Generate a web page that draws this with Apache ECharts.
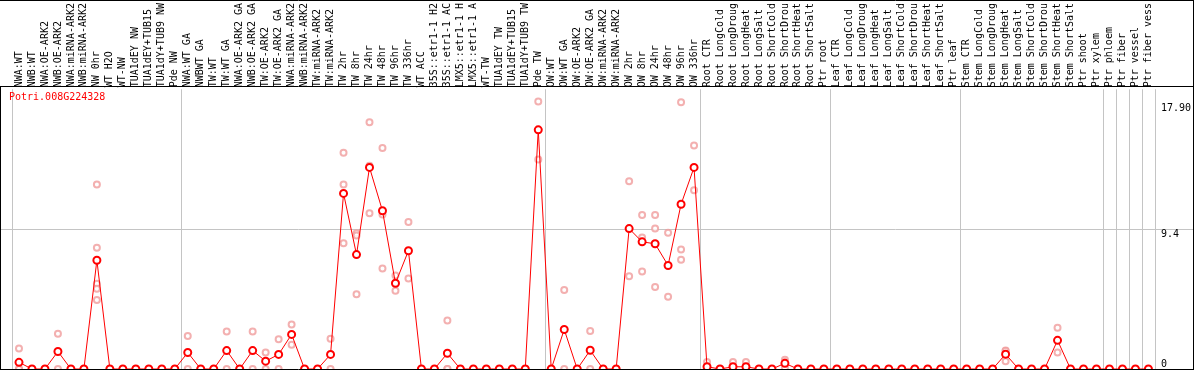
<!DOCTYPE html>
<html>
<head>
<meta charset="utf-8">
<script src="https://cdn.jsdelivr.net/npm/echarts@6/dist/echarts.min.js"></script>
<style>
html, body { margin: 0; padding: 0; background: #fff; }
#c { width: 1194px; height: 370px; }
</style>
</head>
<body>
<div id="c"></div>
<script>
const geneName = 'Potri.008G224328';

const categories = [
  'NWA:WT', 'NWB:WT', 'NWA:OE-ARK2', 'NWB:OE-ARK2', 'NWA:miRNA-ARK2', 'NWB:miRNA-ARK2',
  'NW 0hr', 'WT H2O', 'WT-NW', 'TUA1dEY NW', 'TUA1dEY+TUB15', 'TUA1dY+TUB9 NW', 'Pde NW',
  'NWA:WT GA', 'NWBWT GA', 'TW:WT', 'TW:WT GA', 'NWA:OE-ARK2 GA', 'NWB:OE-ARK2 GA',
  'TW:OE-ARK2', 'TW:OE-ARK2 GA', 'NWA:miRNA-ARK2', 'NWB:miRNA-ARK2', 'TW:miRNA-ARK2', 'TW:miRNA-ARK2',
  'TW 2hr', 'TW 8hr', 'TW 24hr', 'TW 48hr', 'TW 96hr', 'TW 336hr', 'WT ACC',
  '35S::etr1-1 H2', '35S::etr1-1 AC', 'LMX5::etr1-1 H', 'LMX5::etr1-1 A', 'WT-TW',
  'TUA1dEY TW', 'TUA1dEY+TUB15', 'TUA1dY+TUB9 TW', 'Pde TW',
  'OW:WT', 'OW:WT GA', 'OW:OE-ARK2', 'OW:OE-ARK2 GA', 'OW:miRNA-ARK2', 'OW:miRNA-ARK2',
  'OW 2hr', 'OW 8hr', 'OW 24hr', 'OW 48hr', 'OW 96hr', 'OW 336hr',
  'Root CTR', 'Root LongCold', 'Root LongDroug', 'Root LongHeat', 'Root LongSalt',
  'Root ShortCold', 'Root ShortDrou', 'Root ShortHeat', 'Root ShortSalt', 'Ptr root',
  'Leaf CTR', 'Leaf LongCold', 'Leaf LongDroug', 'Leaf LongHeat', 'Leaf LongSalt',
  'Leaf ShortCold', 'Leaf ShortDrou', 'Leaf ShortHeat', 'Leaf ShortSalt', 'Ptr leaf',
  'Stem CTR', 'Stem LongCold', 'Stem LongDroug', 'Stem LongHeat', 'Stem LongSalt',
  'Stem ShortCold', 'Stem ShortDrou', 'Stem ShortHeat', 'Stem ShortSalt', 'Ptr shoot',
  'Ptr xylem', 'Ptr phloem', 'Ptr fiber', 'Ptr vessel', 'Ptr fiber vess'
];

// number of samples in each separated block
const groupSizes = [13, 28, 12, 10, 10, 11, 1, 1, 1, 1];

const meanValues = [
  0.45, 0, 0, 1.18, 0, 0, 7.32, 0, 0, 0, 0, 0, 0,
  1.11, 0, 0, 1.24, 0, 1.24, 0.53, 0.98, 2.33, 0, 0, 0.98,
  11.82, 7.70, 13.57, 10.65, 5.77, 7.96, 0, 0, 1.06, 0, 0, 0, 0, 0, 0, 16.10,
  0, 2.66, 0, 1.26, 0, 0, 9.45, 8.56, 8.43, 6.97, 11.09, 13.57,
  0.15, 0, 0.15, 0.15, 0, 0, 0.38, 0, 0, 0,
  0, 0, 0, 0, 0, 0, 0, 0, 0, 0,
  0, 0, 0, 1.0, 0, 0, 0, 1.93, 0, 0, 0,
  0, 0, 0, 0
];

const replicateValues = [
  [1.38, 0, 0], [0, 0], [0, 0], [2.37, 0], [0, 0], [0, 0],
  [12.42, 8.16, 5.74, 5.41, 4.64], [0, 0], [0, 0], [0, 0], [0, 0], [0, 0], [0, 0],
  [2.22, 0], [0, 0], [0, 0], [2.53, 0], [0, 0], [2.53, 0], [1.11, 0], [2.0, 0],
  [2.99, 1.64], [0, 0], [0, 0], [2.04, 0],
  [14.55, 12.42, 8.47], [9.14, 8.98, 5.03], [16.61, 13.69, 10.49], [14.88, 10.40, 6.77],
  [6.30, 5.26, 5.75], [9.89, 6.10], [0, 0], [0, 0], [3.26, 0, 0], [0, 0], [0, 0],
  [0, 0], [0, 0], [0, 0], [0, 0], [18.01, 14.10],
  [0, 0], [5.32, 0], [0, 0], [2.55, 0], [0, 0], [0, 0],
  [12.64, 6.25], [10.36, 8.85, 6.57], [10.36, 9.45, 5.52], [9.18, 4.86],
  [17.96, 8.05, 7.36], [15.04, 12.04],
  [0.47, 0, 0], [0, 0], [0.47, 0, 0], [0.47, 0, 0], [0, 0], [0, 0],
  [0.62, 0.45, 0.07], [0, 0], [0, 0], [0, 0],
  [0, 0], [0, 0], [0, 0], [0, 0], [0, 0], [0, 0], [0, 0], [0, 0], [0, 0], [0, 0],
  [0, 0], [0, 0], [0, 0], [1.25, 1.22, 0.53], [0, 0], [0, 0], [0, 0], [2.77, 1.11],
  [0, 0], [0, 0], [0, 0],
  [0, 0], [0, 0], [0, 0], [0, 0]
];

const yTickValues = [0, 9.4, 17.9];
const yTickLabels = ['0', '9.4', '17.90'];
const yMax = 18.83;

// ---- build ----
const groupStarts = [];
let acc = 0;
groupSizes.forEach(n => { groupStarts.push(acc); acc += n; });
const isGroupStart = (idx) => groupStarts.indexOf(idx) >= 0;

const replicatePoints = [];
replicateValues.forEach((reps, i) => reps.forEach(v => replicatePoints.push([i, v])));

const FONT = '"DejaVu Sans Mono", "Liberation Mono", monospace';
const GRAY = '#c4c4c4';
const RED = '#ff0000';
const PINK = '#f09c9c';

function tickText(v) {
  let best = 0;
  yTickValues.forEach((t, i) => { if (Math.abs(t - v) < Math.abs(yTickValues[best] - v)) best = i; });
  return yTickLabels[best];
}

const yLabelBase = { fontSize: 10, fontFamily: FONT, color: '#000', margin: 6, formatter: tickText };

const chart = echarts.init(document.getElementById('c'), null, { renderer: 'canvas' });
chart.setOption({
  animation: false,
  backgroundColor: '#fff',
  title: {
    text: geneName, left: 9, top: 92, padding: 0,
    textStyle: { color: RED, fontSize: 10, fontFamily: FONT, fontWeight: 'normal' }
  },
  grid: { left: 12.5, right: 37.5, top: 86, bottom: 1, containLabel: false },
  xAxis: [{
    type: 'category', data: categories, position: 'top', boundaryGap: true,
    axisLine: { show: false },
    axisTick: { show: true, interval: isGroupStart, length: 86, lineStyle: { color: GRAY, width: 1 } },
    splitLine: { show: true, interval: isGroupStart, lineStyle: { color: GRAY, width: 1 } },
    axisLabel: { interval: 0, rotate: 90, margin: 2, fontSize: 10, fontFamily: FONT, color: '#000' }
  }],
  yAxis: [
    {
      type: 'value', min: 0, max: yMax, position: 'right',
      axisLine: { show: false }, axisTick: { show: false }, splitLine: { show: false },
      axisLabel: Object.assign({}, yLabelBase, { customValues: yTickValues.slice(1), verticalAlign: 'top' })
    },
    {
      type: 'value', min: 0, max: yMax, position: 'right',
      axisLine: { show: false }, axisTick: { show: false }, splitLine: { show: false },
      axisLabel: Object.assign({}, yLabelBase, { customValues: yTickValues.slice(0, 1), verticalAlign: 'bottom' })
    }
  ],
  series: [
    {
      name: 'replicates', type: 'scatter', data: replicatePoints, clip: false,
      symbol: 'emptyCircle', symbolSize: 6, z: 2,
      itemStyle: { color: PINK, borderColor: PINK, borderWidth: 1 }
    },
    {
      name: 'mean', type: 'line', data: meanValues, clip: false,
      symbol: 'emptyCircle', symbolSize: 7, z: 3,
      lineStyle: { color: RED, width: 1 },
      itemStyle: { color: RED, borderColor: RED, borderWidth: 1.4 }
    }
  ]
});

const yGrid = Math.round(chart.convertToPixel({ yAxisIndex: 0 }, yTickValues[1])) + 0.5;
const W = 1194, H = 370;
const black = { stroke: '#000', lineWidth: 1 };
chart.setOption({
  graphic: [
    { type: 'line', z: 0, silent: true, shape: { x1: 0, y1: yGrid, x2: W, y2: yGrid }, style: { stroke: GRAY, lineWidth: 1 } },
    { type: 'line', z: 100, silent: true, shape: { x1: 0, y1: 0.5, x2: W, y2: 0.5 }, style: black },
    { type: 'line', z: 100, silent: true, shape: { x1: 0, y1: 86.5, x2: W, y2: 86.5 }, style: black },
    { type: 'line', z: 100, silent: true, shape: { x1: 0.5, y1: 86, x2: 0.5, y2: H }, style: black },
    { type: 'line', z: 100, silent: true, shape: { x1: W - 0.5, y1: 0, x2: W - 0.5, y2: H }, style: black },
    { type: 'line', z: 100, silent: true, shape: { x1: 0, y1: H - 0.5, x2: W, y2: H - 0.5 }, style: black }
  ]
});
</script>
</body>
</html>
